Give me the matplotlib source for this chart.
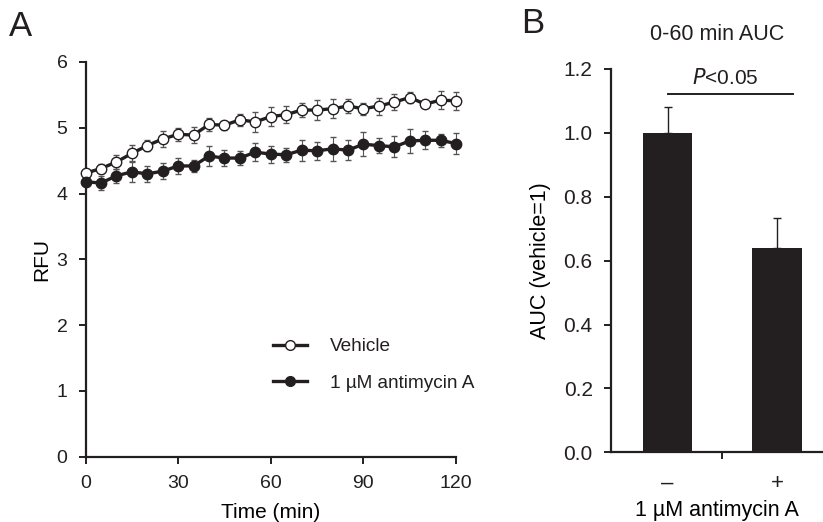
import matplotlib
matplotlib.use("Agg")
import matplotlib.pyplot as plt
import matplotlib.lines as mlines
import numpy as np

plt.rcParams['font.family'] = ['Liberation Sans', 'DejaVu Sans']
plt.rcParams['font.size'] = 14
INK = '#231f20'
plt.rcParams['text.color'] = INK
plt.rcParams['axes.edgecolor'] = INK
plt.rcParams['xtick.color'] = INK
plt.rcParams['ytick.color'] = INK

# ---- Panel A data ----
time_min = [0, 5, 10, 15, 20, 25, 30, 35, 40, 45, 50, 55, 60, 65, 70, 75, 80, 85, 90, 95, 100, 105, 110, 115, 120]
vehicle = [4.31, 4.38, 4.48, 4.61, 4.73, 4.83, 4.90, 4.89, 5.05, 5.04, 5.12, 5.09, 5.17, 5.20, 5.27, 5.27,
           5.29, 5.33, 5.29, 5.33, 5.39, 5.46, 5.36, 5.42, 5.41]
vehicle_err = [0.04, 0.07, 0.11, 0.13, 0.08, 0.12, 0.10, 0.12, 0.10, 0.07, 0.09, 0.15, 0.14, 0.13, 0.10, 0.15,
               0.14, 0.10, 0.09, 0.13, 0.12, 0.08, 0.05, 0.14, 0.14]
antimycin = [4.18, 4.16, 4.27, 4.33, 4.30, 4.34, 4.42, 4.42, 4.57, 4.54, 4.54, 4.63, 4.60, 4.59, 4.66, 4.65,
             4.68, 4.66, 4.75, 4.73, 4.71, 4.80, 4.81, 4.81, 4.76]
antimycin_err = [0.05, 0.10, 0.11, 0.16, 0.12, 0.12, 0.12, 0.09, 0.15, 0.12, 0.10, 0.14, 0.13, 0.11, 0.16, 0.14,
                 0.18, 0.15, 0.18, 0.12, 0.16, 0.18, 0.14, 0.10, 0.16]
series_labels = ['Vehicle', '1 \u00b5M antimycin A']
x_ticks_a = [0, 30, 60, 90, 120]
y_ticks_a = [0, 1, 2, 3, 4, 5, 6]

# ---- Panel B data ----
auc_labels = ['\u2013', '+']
auc_values = [1.00, 0.64]
auc_err = [0.08, 0.095]
y_ticks_b = [0.0, 0.2, 0.4, 0.6, 0.8, 1.0, 1.2]

W, H = 823, 522
fig = plt.figure(figsize=(W / 100, H / 100), dpi=100)

def frac(l, t, r, b):
    return [l / W, 1 - b / H, (r - l) / W, (b - t) / H]

# ---------------- Panel A ----------------
axA = fig.add_axes(frac(85.5, 62, 456, 456.7))
for s in ['top', 'right']:
    axA.spines[s].set_visible(False)
for s in ['left', 'bottom']:
    axA.spines[s].set_linewidth(1.6)

common = dict(fmt='-o', color=INK, lw=2.4, ms=7.5, mec=INK, mew=1.0, ecolor='#555555',
              elinewidth=0.8, capsize=2.2, capthick=0.8, clip_on=False)
h_v = axA.errorbar(time_min, vehicle, yerr=vehicle_err, mfc='white', zorder=3, **common)
h_a = axA.errorbar(time_min, antimycin, yerr=antimycin_err, mfc=INK, zorder=4, **common)
for h in (h_v, h_a):
    for c in h[1]:
        c.set_clip_on(False)
    for c in h[2]:
        c.set_clip_on(False)

axA.set_xlim(0, 120)
axA.set_ylim(0, 6)
axA.set_xticks(x_ticks_a)
axA.set_yticks(y_ticks_a)
axA.tick_params(direction='out', length=5, width=1.4, labelsize=14)
axA.tick_params(axis='x', pad=8)
axA.tick_params(axis='y', pad=8)
axA.set_xlabel('Time (min)', fontsize=15, labelpad=8)
axA.set_ylabel('RFU', fontsize=15, labelpad=4)

hv = mlines.Line2D([], [], color=INK, lw=2.4, marker='o', ms=7, mfc='white', mec=INK, mew=1.0)
ha = mlines.Line2D([], [], color=INK, lw=2.4, marker='o', ms=7, mfc=INK, mec=INK, mew=1.0)
fig.legend([hv, ha], series_labels, loc='center left',
           bbox_to_anchor=(273 / W, 1 - 365 / H), frameon=False, fontsize=13.7,
           handlelength=1.8, handletextpad=1.2, labelspacing=1.0, borderpad=0,
           borderaxespad=0, numpoints=1)

fig.text(9 / W, 1 - 26 / H, 'A', fontsize=25, va='center', ha='left')

# ---------------- Panel B ----------------
axB = fig.add_axes(frac(610.7, 69, 823, 452.3))
for s in ['top', 'right']:
    axB.spines[s].set_visible(False)
for s in ['left', 'bottom']:
    axB.spines[s].set_linewidth(1.6)

xpos = np.arange(len(auc_values))
axB.bar(xpos, auc_values, width=0.45, color=INK, zorder=2)
axB.errorbar(xpos, auc_values, yerr=[[0, 0], auc_err], fmt='none', ecolor=INK,
             elinewidth=1.0, capsize=3, capthick=1.0, zorder=1)
axB.set_xlim(-0.52, 1.42)
axB.set_ylim(0, 1.2)
axB.set_yticks(y_ticks_b)
axB.set_yticklabels([f'{v:.1f}' for v in y_ticks_b])
axB.set_xticks(xpos)
axB.set_xticklabels(auc_labels, fontsize=16)
axB.set_xticks([0.5], minor=True)
axB.tick_params(axis='x', which='major', length=0, pad=15)
axB.tick_params(axis='x', which='minor', length=5, width=1.4, direction='out')
axB.tick_params(axis='y', direction='out', length=5, width=1.4, labelsize=15, pad=8)
axB.set_xlabel('1 \u00b5M antimycin A', fontsize=15.5, labelpad=4)
axB.set_ylabel('AUC (vehicle=1)', fontsize=15.5, labelpad=9)

sig_y = 1.122
axB.plot([0, 1.15], [sig_y, sig_y], color=INK, lw=1.4, clip_on=False)
axB.text(0.53, 1.14, r'$\it{P}$<0.05', fontsize=15, ha='center', va='bottom')
axB.set_title('0-60 min AUC', fontsize=15.5, pad=21)

fig.text(521 / W, 1 - 24 / H, 'B', fontsize=25, va='center', ha='left')

fig.savefig('out.png', dpi=100)
